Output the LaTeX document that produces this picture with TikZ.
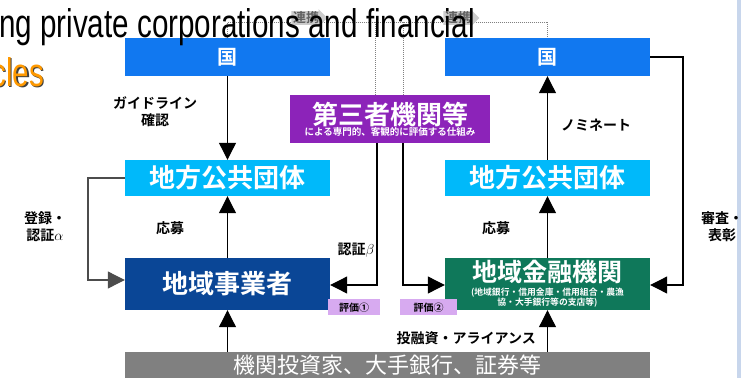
\documentclass[tikz,border=0pt]{standalone}
\usepackage{fontspec}
\setmainfont{Liberation Sans}
\newfontfamily\jp{Noto Sans CJK JP}
\newfontfamily\jpb{Noto Sans CJK JP Bold}
\usetikzlibrary{arrows.meta,shapes.arrows}
\definecolor{kuniblue}{RGB}{17,120,240}
\definecolor{chihocyan}{RGB}{0,185,250}
\definecolor{jigyoblue}{RGB}{10,70,150}
\definecolor{kinyugreen}{RGB}{15,120,90}
\definecolor{daisanpurple}{RGB}{140,35,185}
\definecolor{hyokapink}{RGB}{215,170,240}
\definecolor{invgray}{RGB}{128,128,128}
\definecolor{titleorange}{RGB}{255,153,0}
\definecolor{edgeblue}{RGB}{200,214,236}
\tikzset{
  box/.style={minimum width=205pt,inner sep=0pt,text=white,font=\jpb},
  intext/.style={inner sep=0pt,text=white,font=\jpb,align=center},
  lbl/.style={font=\jpb\fontsize{14}{17}\selectfont,align=center,inner sep=1pt},
  arr/.style={-{Triangle[length=17pt,width=17pt]},line width=1.1pt},
  dot/.style={densely dotted,line width=1pt,gray},
  tag/.style={fill=hyokapink,font=\jpb\fontsize{10}{11}\selectfont,inner sep=1pt,minimum height=16pt},
  renkei/.style={single arrow,fill=gray!40,inner sep=0.5pt,single arrow head extend=2pt,minimum height=36pt,font=\jpb\fontsize{13}{14}\selectfont,text=gray!75!black},
  titletext/.style={inner sep=0pt,font=\fontsize{40}{42}\selectfont,xscale=0.74},
}
\begin{document}
\begin{tikzpicture}[x=1pt,y=-1pt]
\useasboundingbox (0,0) rectangle (741,378);
\fill[edgeblue] (737,0) rectangle (741,378);
% boxes
\node[box,fill=kuniblue,minimum height=38pt,font=\jpb\fontsize{20}{22}\selectfont] (kuniL) at (227.5,57) {国};
\node[box,fill=kuniblue,minimum height=38pt,font=\jpb\fontsize{20}{22}\selectfont] (kuniR) at (547.5,57) {国};
\node[box,fill=chihocyan,minimum height=36pt,font=\jpb\fontsize{26}{28}\selectfont] (chihoL) at (227.5,178) {地方公共団体};
\node[box,fill=chihocyan,minimum height=36pt,font=\jpb\fontsize{26}{28}\selectfont] (chihoR) at (547.5,178) {地方公共団体};
\node[box,fill=jigyoblue,minimum height=52pt,font=\jpb\fontsize{26}{28}\selectfont] (jigyo) at (227.5,284) {地域事業者};
\node[box,fill=kinyugreen,minimum height=52pt] (kinyu) at (547.5,284) {};
\node[intext,font=\jpb\fontsize{25}{26}\selectfont] (kinyuT) at (547.5,272) {地域金融機関};
\node[intext,font=\jpb\fontsize{8.8}{10}\selectfont] (kinyuS) at (547.5,298) {(地域銀行・信用金庫・信用組合・農漁\\協・大手銀行等の支店等)};
\node[box,fill=daisanpurple,minimum width=200pt,minimum height=48pt,align=center] (daisan) at (390,119)
  {{\fontsize{26}{27}\selectfont 第三者機関等}\\[-1pt]{\fontsize{9.5}{10}\selectfont による専門的、客観的に評価する仕組み}};
\node[box,fill=invgray,minimum width=525pt,minimum height=26pt,font=\jp\fontsize{22}{23}\selectfont,anchor=north] (inv) at (387.5,352) {機関投資家、大手銀行、証券等};
\node[tag,minimum width=52pt,anchor=north west] (hyoka1) at (328,299) {評価①};
\node[tag,minimum width=57pt,anchor=north west] (hyoka2) at (400,299) {評価②};
% top dotted links
\coordinate (tL) at (227.5,22);
\coordinate (tR) at (547.5,22);
\draw[dot] (kuniL.north) -- (tL) -- (tR) -- (kuniR.north);
\draw[dot] (daisan.north -| 375,0) -- (375,22);
\draw[dot] (daisan.north -| 403,0) -- (403,22);
\node[renkei] (ren1) at (306,18) {連携};
\node[renkei] (ren2) at (458,18) {連携};
% arrows
\draw[arr] (kuniL.south) -- (chihoL.north);
\draw[arr] (jigyo.north) -- (chihoL.south);
\draw[arr] (chihoR.north) -- (kuniR.south);
\draw[arr] (kinyu.north) -- (chihoR.south);
\draw[arr] (inv.north -| jigyo.south) -- (jigyo.south);
\draw[arr] (inv.north -| kinyu.south) -- (kinyu.south);
\coordinate (aL) at (88,280);
\draw[arr,draw=black!70] (chihoL.west) -| (aL) -- (jigyo.west |- aL);
\coordinate (aR) at (683,285);
\draw[arr] (kuniR.east) -| (aR) -- (kinyu.east |- aR);
\coordinate (b1) at (377,285);
\draw[arr] (daisan.south -| b1) -- (b1) -- (jigyo.east |- b1);
\coordinate (b2) at (403,285);
\draw[arr] (daisan.south -| b2) -- (b2) -- (kinyu.west |- b2);
% labels
\node[lbl] (l1) at (155,112) {ガイドライン\\確認};
\node[lbl] (l2) at (170,228) {応募};
\node[lbl] (l3) at (596,125) {ノミネート};
\node[lbl] (l4) at (496,228) {応募};
\node[lbl] (l5) at (45,227) {登録・\\認証$\alpha$};
\node[lbl] (l6) at (722,227) {審査・\\表彰};
\node[lbl] (l7) at (356,250) {認証$\beta$};
\node[lbl,anchor=east] (l8) at (537,338) {投融資・アライアンス};
% title (drawn over the diagram)
\node[titletext,anchor=base west] (title) at (-1,37) {ng private corporations and financial};
\node[titletext,anchor=base east,text=black!75] (shadow) at (45.5,87.5) {cles};
\node[titletext,anchor=base east,text=titleorange] (title2) at (44,86) {cles};
\end{tikzpicture}
\end{document}
